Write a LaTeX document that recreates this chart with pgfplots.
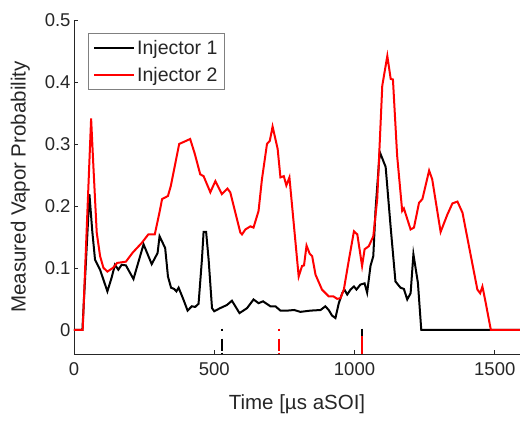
\documentclass[border=0pt]{standalone}
\usepackage{fontspec}
\setmainfont{Liberation Sans}
\usepackage{pgfplots}
\pgfplotsset{compat=1.18}
\definecolor{axgray}{RGB}{38,38,38}
\definecolor{inj2}{RGB}{255,0,0}

\begin{document}
\begin{tikzpicture}
\begin{axis}[
  name=ax, at={(0,0)}, anchor=south west,
  scale only axis, width=446bp, height=334bp,
  xmin=0, xmax=1590, ymin=-0.039, ymax=0.5,
  axis x line*=bottom, axis y line*=left,
  axis line style={axgray, line width=0.7bp},
  xtick={0,500,1000,1500}, ytick={0,0.1,0.2,0.3,0.4,0.5},
  tick align=inside, major tick length=4bp,
  tick style={axgray, line width=0.7bp},
  /pgf/number format/1000 sep={},
  /pgf/number format/assume math mode=true,
  ticklabel style={font=\fontsize{18.5bp}{20bp}\selectfont, text=axgray},
  xticklabel style={yshift=-5bp},
  xlabel={Time [µs aSOI]}, ylabel={Measured Vapor Probability},
  label style={font=\fontsize{20.5bp}{22bp}\selectfont, text=axgray},
  xlabel style={yshift=-12bp},
  ylabel style={yshift=8bp},
  legend style={at={(0.031,0.961)}, anchor=north west, draw=black!50,
    font=\fontsize{19.5bp}{21bp}\selectfont, text=axgray, inner sep=5bp,
    row sep=7bp, line width=0.7bp},
  legend cell align=left,
  legend image code/.code={\draw[#1] (0bp,0bp) -- (40bp,0bp);},
]
\addplot[black, line width=2bp] coordinates {
(0,0) (30,0) (55,0.219) (65,0.16) (75,0.113) (93,0.097) (119,0.062) (134,0.084)
(146,0.105) (158,0.097) (170,0.105) (185,0.104) (212,0.082) (248,0.138) (277,0.106)
(298,0.124) (305,0.151) (325,0.132) (335,0.086) (346,0.068) (357,0.066) (365,0.062)
(373,0.068) (390,0.049) (405,0.031) (420,0.038) (432,0.037) (444,0.042) (456,0.113)
(462,0.158) (471,0.158) (480,0.113) (492,0.035) (500,0.030) (521,0.035) (545,0.040)
(563,0.047) (590,0.027) (617,0.035) (640,0.049) (658,0.043) (674,0.046) (700,0.038)
(718,0.038) (736,0.031) (760,0.031) (785,0.032) (807,0.029) (843,0.031) (879,0.032)
(896,0.038) (908,0.032) (920,0.023) (932,0.019) (944,0.043) (956,0.059) (964,0.065)
(974,0.057) (986,0.065) (998,0.070) (1007,0.065) (1021,0.073) (1036,0.075) (1045,0.060)
(1057,0.103) (1067,0.119) (1075,0.194) (1090,0.287) (1111,0.263) (1129,0.165)
(1146,0.078) (1164,0.068) (1176,0.066) (1188,0.049) (1200,0.059) (1210,0.122)
(1226,0.076) (1238,0) (1590,0)
};
\addlegendentry{Injector 1}
\addplot[inj2, line width=2bp] coordinates {
(0,0) (31,0) (61,0.341) (69,0.265) (81,0.157) (93,0.119) (105,0.100) (119,0.094)
(139,0.100) (154,0.108) (170,0.109) (185,0.110) (210,0.125) (241,0.140) (265,0.154)
(288,0.154) (305,0.190) (314,0.211) (335,0.216) (345,0.232) (375,0.300) (400,0.305)
(414,0.308) (430,0.285) (450,0.251) (462,0.248) (486,0.222) (504,0.240) (527,0.219)
(547,0.228) (557,0.222) (593,0.157) (599,0.154) (611,0.162) (629,0.167) (640,0.165)
(658,0.192) (670,0.243) (688,0.300) (698,0.305) (708,0.328) (726,0.292) (736,0.246)
(748,0.248) (757,0.233) (768,0.246) (801,0.086) (813,0.103) (820,0.104) (829,0.136)
(840,0.123) (849,0.119) (861,0.089) (884,0.065) (908,0.054) (925,0.054) (938,0.050)
(950,0.051) (962,0.065) (980,0.113) (998,0.159) (1010,0.154) (1027,0.103) (1036,0.130)
(1051,0.135) (1067,0.151) (1081,0.211) (1099,0.394) (1117,0.442) (1129,0.405)
(1137,0.404) (1152,0.281) (1170,0.192) (1176,0.196) (1200,0.162) (1212,0.165)
(1230,0.205) (1242,0.211) (1266,0.257) (1277,0.243) (1307,0.158) (1331,0.186)
(1349,0.204) (1367,0.207) (1385,0.189) (1408,0.135) (1438,0.065) (1448,0.059)
(1456,0.070) (1468,0.043) (1486,0) (1590,0)
};
\addlegendentry{Injector 2}
% injection markers
\addplot[black, line width=2bp, dash pattern=on 2bp off 8bp on 12bp, forget plot]
  coordinates {(527,0.002) (527,-0.039)};
\addplot[inj2, line width=2bp, dash pattern=on 2bp off 8bp on 12bp, forget plot]
  coordinates {(730,0.002) (730,-0.039)};
\addplot[black, line width=2bp, forget plot]
  coordinates {(1025,0.002) (1025,-0.039)};
\addplot[inj2, line width=2bp, forget plot]
  coordinates {(1025,-0.010) (1025,-0.039)};
\end{axis}
\pgfresetboundingbox
\path[use as bounding box] (-74bp,-68bp) rectangle (446bp,354bp);
\end{tikzpicture}
\end{document}
